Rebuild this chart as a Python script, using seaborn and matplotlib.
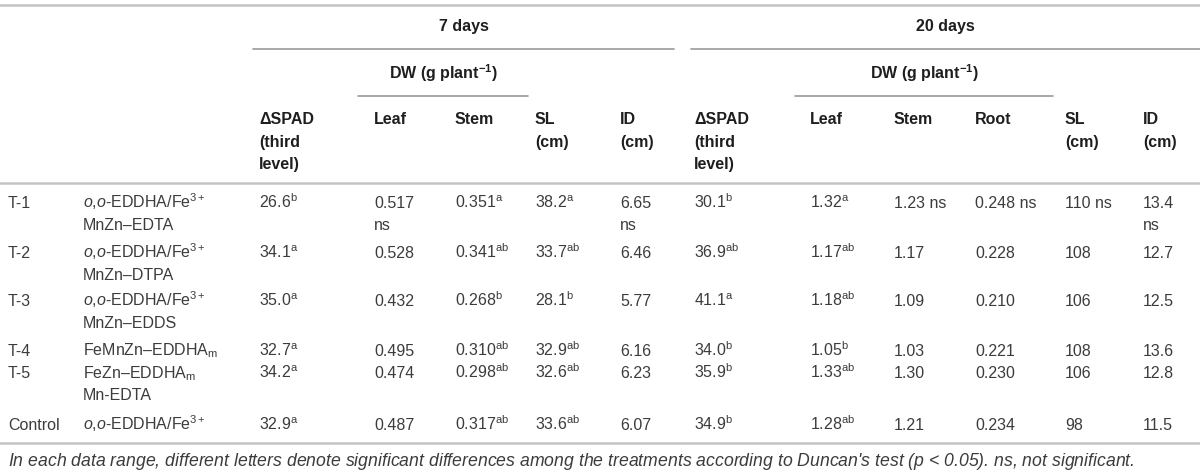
import matplotlib
matplotlib.use("Agg")
import matplotlib.pyplot as plt
import seaborn as sns

sns.set_theme(style="white")
plt.rcParams["font.family"] = ["Liberation Sans", "DejaVu Sans"]
plt.rcParams["mathtext.fontset"] = "custom"
plt.rcParams["mathtext.rm"] = "Liberation Sans"
plt.rcParams["mathtext.it"] = "Liberation Sans:italic"
plt.rcParams["mathtext.bf"] = "Liberation Sans:bold"

# table data
labels = ["T-1", "T-2", "T-3", "T-4", "T-5", "Control"]
treatments = [
    ["$\\mathit{o}$,$\\mathit{o}$-EDDHA/Fe$^{3+}$", "MnZn\u2013EDTA"],
    ["$\\mathit{o}$,$\\mathit{o}$-EDDHA/Fe$^{3+}$", "MnZn\u2013DTPA"],
    ["$\\mathit{o}$,$\\mathit{o}$-EDDHA/Fe$^{3+}$", "MnZn\u2013EDDS"],
    ["FeMnZn\u2013EDDHA$_{\\mathrm{m}}$"],
    ["FeZn\u2013EDDHA$_{\\mathrm{m}}$", "Mn-EDTA"],
    ["$\\mathit{o}$,$\\mathit{o}$-EDDHA/Fe$^{3+}$"],
]
spad7 = ["26.6", "34.1", "35.0", "32.7", "34.2", "32.9"]
spad7_sig = ["b", "a", "a", "a", "a", "a"]
leaf7 = ["0.517", "0.528", "0.432", "0.495", "0.474", "0.487"]
stem7 = ["0.351", "0.341", "0.268", "0.310", "0.298", "0.317"]
stem7_sig = ["a", "ab", "b", "ab", "ab", "ab"]
sl7 = ["38.2", "33.7", "28.1", "32.9", "32.6", "33.6"]
sl7_sig = ["a", "ab", "b", "ab", "ab", "ab"]
id7 = ["6.65", "6.46", "5.77", "6.16", "6.23", "6.07"]
spad20 = ["30.1", "36.9", "41.1", "34.0", "35.9", "34.9"]
spad20_sig = ["b", "ab", "a", "b", "b", "b"]
leaf20 = ["1.32", "1.17", "1.18", "1.05", "1.33", "1.28"]
leaf20_sig = ["a", "ab", "ab", "b", "ab", "ab"]
stem20 = ["1.23", "1.17", "1.09", "1.03", "1.30", "1.21"]
root20 = ["0.248", "0.228", "0.210", "0.221", "0.230", "0.234"]
sl20 = ["110", "108", "106", "108", "106", "98"]
id20 = ["13.4", "12.7", "12.5", "13.6", "12.8", "11.5"]

footnote = ("In each data range, different letters denote significant differences among the "
            "treatments according to Duncan's test ($\\mathit{p}$ < 0.05). ns, not significant.")


def sup(vals, sig):
    return [v + "$^{\\mathrm{" + s + "}}$" for v, s in zip(vals, sig)]


def ns_first(vals, newline):
    out = [[v] for v in vals]
    if newline:
        out[0] = [vals[0], "ns"]
    else:
        out[0] = [vals[0] + " ns"]
    return out


def lines(vals):
    return [[v] for v in vals]


columns = [
    (8, lines(labels)),
    (83, treatments),
    (259, lines(sup(spad7, spad7_sig))),
    (374, ns_first(leaf7, True)),
    (455, lines(sup(stem7, stem7_sig))),
    (535, lines(sup(sl7, sl7_sig))),
    (620, ns_first(id7, True)),
    (694, lines(sup(spad20, spad20_sig))),
    (810, lines(sup(leaf20, leaf20_sig))),
    (894, ns_first(stem20, False)),
    (975, ns_first(root20, False)),
    (1065, ns_first(sl20, False)),
    (1143, ns_first(id20, True)),
]

headers = [
    (259, ["\u0394SPAD", "(third", "level)"]),
    (374, ["Leaf"]),
    (455, ["Stem"]),
    (535, ["SL", "(cm)"]),
    (620, ["ID", "(cm)"]),
    (694, ["\u0394SPAD", "(third", "level)"]),
    (810, ["Leaf"]),
    (894, ["Stem"]),
    (975, ["Root"]),
    (1065, ["SL", "(cm)"]),
    (1143, ["ID", "(cm)"]),
]

row_y = [203, 252, 300, 350, 373, 425]
line_h = 22
fs = 11.5
body_c = "#3c3c3c"
head_c = "#1e1e1e"
rule_c = "#c4c4c4"
span_c = "#9a9a9a"

fig = plt.figure(figsize=(12, 4.76), dpi=100)
ax = fig.add_axes([0, 0, 1, 1])
ax.set_xlim(0, 1200)
ax.set_ylim(476, 0)
ax.axis("off")

# horizontal rules
ax.plot([0, 1200], [5, 5], color=rule_c, lw=1.8)
ax.plot([0, 1200], [183, 183], color=rule_c, lw=1.8)
ax.plot([0, 1200], [443, 443], color=rule_c, lw=1.8)
ax.plot([253, 674], [49, 49], color=span_c, lw=1.2)
ax.plot([691, 1200], [49, 49], color=span_c, lw=1.2)
ax.plot([358, 528], [96, 96], color=span_c, lw=1.2)
ax.plot([795, 1053], [96, 96], color=span_c, lw=1.2)

# group headers
ax.text(464, 27, "7 days", ha="center", va="center", fontsize=fs,
        fontweight="bold", color=head_c)
ax.text(945, 27, "20 days", ha="center", va="center", fontsize=fs,
        fontweight="bold", color=head_c)
for cx in (443, 924):
    ax.text(cx, 73, "DW (g plant$^{\\mathbf{-1}}$)", ha="center", va="center",
            fontsize=fs, fontweight="bold", color=head_c)

for x, hl in headers:
    for i, t in enumerate(hl):
        ax.text(x, 118 + 5.5 + i * 23, t, ha="left", va="baseline", fontsize=fs,
                fontweight="bold", color=head_c)

for x, cells in columns:
    for y, cell in zip(row_y, cells):
        for i, t in enumerate(cell):
            ax.text(x, y + 5.5 + i * line_h, t, ha="left", va="baseline",
                    fontsize=fs, color=body_c)

ax.text(8, 460 + 5.5, footnote, ha="left", va="baseline", fontsize=12.7,
        style="italic", color=body_c)

fig.savefig("out.png", dpi=100)
